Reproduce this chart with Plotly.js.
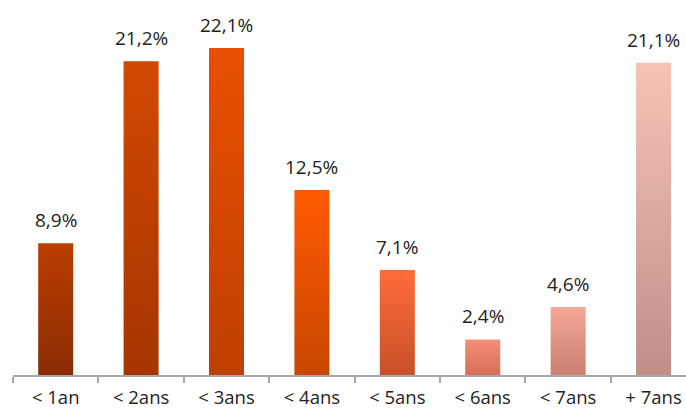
<!DOCTYPE html>
<html>
<head>
<meta charset="utf-8">
<script src="https://cdn.plot.ly/plotly-3.0.1.min.js"></script>
<style>
html,body{margin:0;padding:0;background:#fff;}
#chart{width:686px;height:410px;}
</style>
</head>
<body>
<div id="chart"></div>
<script>
const categories = ["< 1an", "< 2ans", "< 3ans", "< 4ans", "< 5ans", "< 6ans", "< 7ans", "+ 7ans"];
const values = [8.9, 21.2, 22.1, 12.5, 7.1, 2.4, 4.6, 21.1];
const labels = values.map(v => v.toFixed(1).replace('.', ',') + '%');

const topColors = ["#bb3e00", "#d24900", "#e84f00", "#ff5a00", "#ff6c38", "#f58f78", "#f6a896", "#f6c3b6"];
const bottomColors = ["#8a2b04", "#a63500", "#bf4000", "#c84600", "#c75129", "#d66e58", "#c98070", "#bf8f88"];

const FONT = '"Open Sans", "Noto Sans", sans-serif';

const trace = {
  type: 'bar',
  x: categories,
  y: values,
  width: 0.41,
  marker: {color: topColors, line: {width: 0}},
  hoverinfo: 'none',
  cliponaxis: false
};

const annotations = categories.map((c, i) => ({
  x: c, y: values[i], text: labels[i],
  xref: 'x', yref: 'y',
  showarrow: false, yanchor: 'bottom', yshift: 8,
  font: {family: FONT, size: 19, color: '#222222'}
}));

const layout = {
  width: 686, height: 410,
  margin: {l: 13, r: 0, t: 0, b: 35, pad: 0},
  paper_bgcolor: '#ffffff', plot_bgcolor: '#ffffff',
  showlegend: false,
  xaxis: {
    type: 'category',
    range: [-0.5, 7.38],
    showline: true, linecolor: '#a8a8a8', linewidth: 2,
    ticks: 'outside', tickson: 'boundaries', ticklen: 6, tickwidth: 2, tickcolor: '#a8a8a8',
    ticklabelstandoff: 5,
    showgrid: false, zeroline: false,
    tickfont: {family: FONT, size: 18.5, color: '#222222'},
    fixedrange: true
  },
  yaxis: {
    range: [0, 25.34],
    visible: false, showgrid: false, zeroline: false, fixedrange: true
  },
  annotations: annotations
};

Plotly.newPlot('chart', [trace], layout, {displayModeBar: false, staticPlot: true}).then(gd => {
  const svg = gd.querySelector('svg.main-svg');
  const ns = 'http://www.w3.org/2000/svg';
  let defs = svg.querySelector('defs');
  if (!defs) { defs = document.createElementNS(ns, 'defs'); svg.insertBefore(defs, svg.firstChild); }
  topColors.forEach((tc, i) => {
    const g = document.createElementNS(ns, 'linearGradient');
    g.setAttribute('id', 'barGrad' + i);
    g.setAttribute('x1', '0'); g.setAttribute('y1', '0');
    g.setAttribute('x2', '0'); g.setAttribute('y2', '1');
    const s1 = document.createElementNS(ns, 'stop');
    s1.setAttribute('offset', '0'); s1.setAttribute('stop-color', tc);
    const s2 = document.createElementNS(ns, 'stop');
    s2.setAttribute('offset', '1'); s2.setAttribute('stop-color', bottomColors[i]);
    g.appendChild(s1); g.appendChild(s2);
    defs.appendChild(g);
  });
  const paths = gd.querySelectorAll('.barlayer .point path');
  paths.forEach((p, i) => { p.style.fill = 'url(#barGrad' + i + ')'; });
});
</script>
</body>
</html>
